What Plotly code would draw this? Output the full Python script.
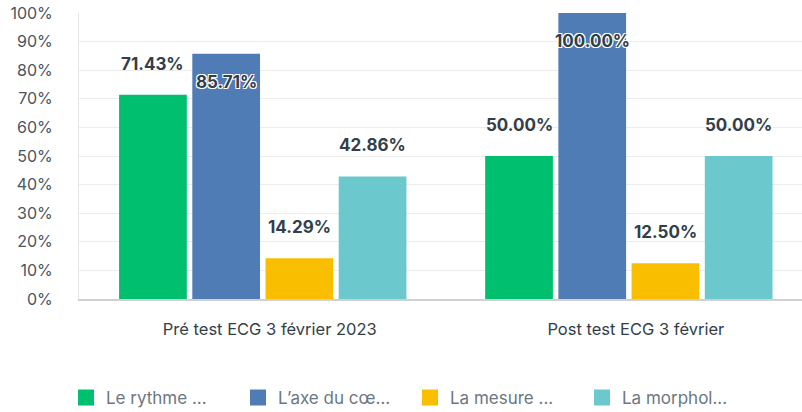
import plotly.graph_objects as go

categories = ["Pré test ECG 3 février 2023", "Post test ECG 3 février"]
series_names = ["Le rythme ...", "L’axe du cœ...", "La mesure ...", "La morphol..."]
series_values = [
    [71.43, 50.00],
    [85.71, 100.00],
    [14.29, 12.50],
    [42.86, 50.00],
]
colors = ["#00bf6f", "#507cb6", "#f9be00", "#6bc8cd"]
y_ticks = [0, 10, 20, 30, 40, 50, 60, 70, 80, 90, 100]
y_tick_labels = [f"{v}%" for v in y_ticks]

FONT = "Inter, Noto Sans, sans-serif"
bargap = 0.2
bargroupgap = 0.075

fig = go.Figure()
n = len(series_values)
for i, (name, vals, col) in enumerate(zip(series_names, series_values, colors)):
    fig.add_trace(go.Bar(
        x=list(range(len(categories))), y=vals, name=name, marker_color=col,
        marker_line_width=0, showlegend=False, hoverinfo="skip",
    ))
    fig.add_trace(go.Scatter(
        x=[None], y=[None], mode="markers", name=name,
        marker=dict(symbol="square", size=22, color=col),
        showlegend=True,
    ))

# data labels via annotations
slot = (1 - bargap) / n
for i, vals in enumerate(series_values):
    for j, v in enumerate(vals):
        xpos = j + (i - (n - 1) / 2) * slot
        inside = v > 80
        fig.add_annotation(
            x=xpos, y=v, xref="x", yref="y",
            text=f"{v:.2f}%", showarrow=False,
            yshift=-28 if inside else 31,
            font=dict(family=FONT, size=17, color="#333e48", weight="bold",
                      shadow="-1px -1px 0 #fff, 1px -1px 0 #fff, -1px 1px 0 #fff, 1px 1px 0 #fff" if inside else "none"),
        )

fig.update_layout(
    width=802, height=412,
    margin=dict(l=79, r=0, t=13, b=113, autoexpand=False),
    plot_bgcolor="white", paper_bgcolor="white",
    barmode="group", bargap=bargap, bargroupgap=bargroupgap,
    font=dict(family=FONT, size=16, color="#4a5560"),
    xaxis=dict(
        tickmode="array", tickvals=list(range(len(categories))), ticktext=categories,
        range=[-0.502, 1.473], showgrid=False, showline=True, linecolor="#d0d0d0",
        linewidth=2, ticks="", ticklabelstandoff=14, ticklabelshift=7, automargin=False,
        tickfont=dict(family=FONT, size=16.5, color="#333e48"), zeroline=False,
    ),
    yaxis=dict(
        range=[0, 100], tickmode="array", tickvals=y_ticks, ticktext=y_tick_labels,
        showgrid=True, gridcolor="#ececec", gridwidth=1, showline=True,
        linecolor="#e6e6e6", linewidth=1, zeroline=False, ticks="", automargin=False,
        ticklabelstandoff=22, tickfont=dict(family=FONT, size=16, color="#4a5560"),
    ),
    legend=dict(
        orientation="h", x=-0.018, xanchor="left", y=-0.346, yanchor="middle",
        entrywidth=127, entrywidthmode="pixels", itemsizing="trace",
        font=dict(family=FONT, size=17, color="#6b787f"),
        traceorder="normal",
    ),
    showlegend=True,
)

fig.write_html("out.html", config={"displayModeBar": False},
               post_script="document.body.style.margin='0';document.body.style.padding='0';")
